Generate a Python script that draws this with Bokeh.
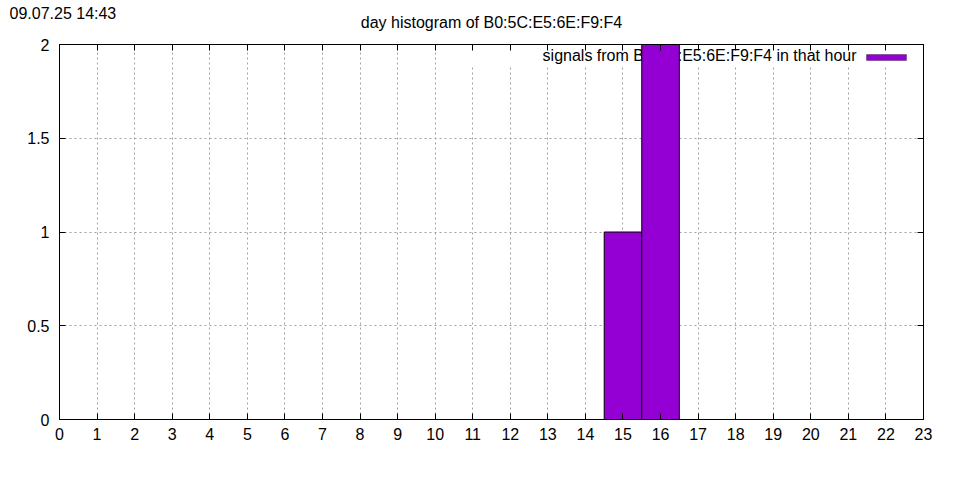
from bokeh.plotting import figure
from bokeh.models import (Range1d, FixedTicker, LinearAxis, Label, BoxAnnotation, Title)
from bokeh.embed import file_html
from bokeh.resources import INLINE

# ---- data ----
hours = [0, 1, 2, 3, 4, 5, 6, 7, 8, 9, 10, 11, 12, 13, 14, 15, 16, 17, 18, 19, 20, 21, 22, 23]
counts = [0, 0, 0, 0, 0, 0, 0, 0, 0, 0, 0, 0, 0, 0, 0, 1, 2, 0, 0, 0, 0, 0, 0, 0]
x_ticks = hours
y_ticks = [0, 0.5, 1, 1.5, 2]
y_tick_labels = ["0", "0.5", "1", "1.5", "2"]
title_text = "day histogram of B0:5C:E5:6E:F9:F4"
stamp_text = "09.07.25 14:43"
legend_text = "signals from B0:5C:E5:6E:F9:F4 in that hour"

FONT = "Liberation Sans"
FS = "16px"
BAR = "#9400d3"
GRID = "#a0a0a0"

W, H = 952, 470
p = figure(width=W, height=H, output_backend="svg", toolbar_location=None,
           x_range=Range1d(0, 23), y_range=Range1d(0, 2),
           min_border_left=59, min_border_right=W - 923, min_border_top=44,
           min_border_bottom=H - 419,
           background_fill_color="white", border_fill_color="white")
p.outline_line_color = "black"
p.outline_line_width = 1

# bars (only drawn where nonzero)
bx = [h for h, c in zip(hours, counts) if c > 0]
bt = [c for c in counts if c > 0]
p.vbar(x=bx, top=bt, bottom=0, width=1, fill_color=BAR, line_color="black", line_width=1)

# grids
for g in (p.xgrid, p.ygrid):
    g.grid_line_color = GRID
    g.grid_line_dash = "2 3"
    g.grid_line_width = 1
p.xgrid.ticker = FixedTicker(ticks=x_ticks)
p.ygrid.ticker = FixedTicker(ticks=y_ticks)

def style_axis(ax, ticks, show_labels):
    ax.ticker = FixedTicker(ticks=ticks)
    ax.axis_line_color = "black"
    ax.major_tick_line_color = "black"
    ax.major_tick_in = 6
    ax.major_tick_out = 0
    ax.minor_tick_line_color = None
    ax.major_label_text_font = FONT
    if show_labels:
        ax.major_label_text_font_size = FS
        ax.major_label_text_color = "black"
    else:
        ax.major_label_text_font_size = "0px"
        ax.major_label_text_color = None
        ax.major_label_standoff = 0

xa = p.xaxis[0]
style_axis(xa, x_ticks, True)
xa.major_label_standoff = 8
ya = p.yaxis[0]
style_axis(ya, y_ticks, True)
ya.major_label_standoff = 10
ya.major_label_overrides = {t: s for t, s in zip(y_ticks, y_tick_labels)}

top_ax = LinearAxis()
style_axis(top_ax, x_ticks, False)
p.add_layout(top_ax, "above")
right_ax = LinearAxis()
style_axis(right_ax, y_ticks, False)
p.add_layout(right_ax, "right")

# legend (gnuplot style: text left of sample, under the bars)
p.add_layout(BoxAnnotation(left=411, right=856, top=375, bottom=353,
                           left_units="screen", right_units="screen",
                           top_units="screen", bottom_units="screen",
                           fill_color="white", fill_alpha=1, line_color=None,
                           level="underlay"))
p.add_layout(Label(x=797, y=364, x_units="screen", y_units="screen", text=legend_text,
                   text_align="right", text_baseline="middle", text_font=FONT,
                   text_font_size=FS, text_color="black", level="underlay"))
p.add_layout(BoxAnnotation(left=807, right=847, top=365, bottom=359,
                           left_units="screen", right_units="screen",
                           top_units="screen", bottom_units="screen",
                           fill_color=BAR, fill_alpha=1, line_color="black", line_width=1))

# title and timestamp
p.add_layout(Title(text=title_text, align="center", vertical_align="top", text_font=FONT,
                   text_font_size=FS, text_font_style="normal", text_color="black",
                   standoff=24), "above")
p.add_layout(Title(text=stamp_text, align="left", offset=-50, text_font=FONT,
                   text_font_size=FS, text_font_style="normal", text_color="black",
                   standoff=-40), "above")

open("out.html", "w").write(file_html(p, INLINE))
